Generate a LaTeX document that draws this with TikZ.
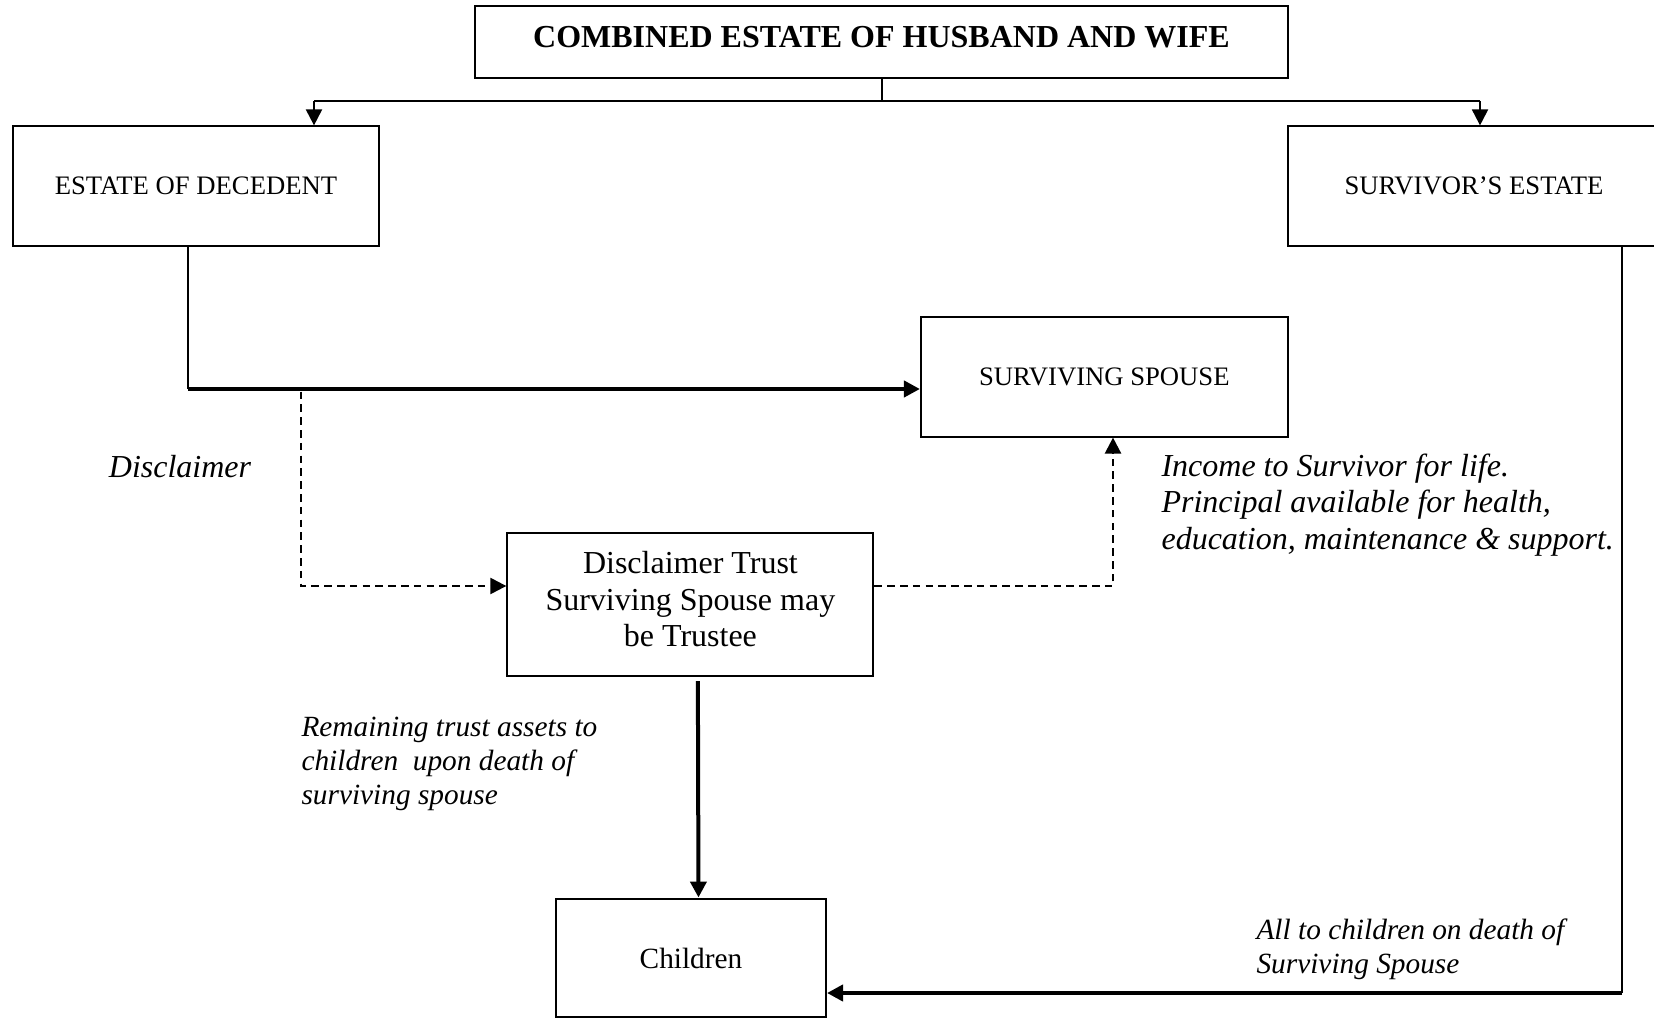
\documentclass[tikz,border=0pt]{standalone}
\usepackage{fontspec}
\setmainfont{Liberation Serif}
\usetikzlibrary{arrows.meta, calc}

\begin{document}
\begin{tikzpicture}[x=0.375pt, y=-0.375pt, >={Triangle[length=6pt, width=6pt]},
    every node/.style={font=\fontsize{12}{13.8}\selectfont},
    box/.style={draw, rectangle, line width=0.75pt, inner sep=0pt, align=center},
    capsbox/.style={box, font=\fontsize{10}{12}\selectfont, minimum width=137.6pt, minimum height=44.7pt},
    note/.style={inner sep=0pt, align=left, anchor=west, font=\fontsize{11}{12.65}\selectfont\itshape},
    link/.style={line width=0.75pt},
    heavy/.style={line width=1.5pt},
    dashlink/.style={line width=0.9pt, dash pattern=on 2.8pt off 2pt}]
    \useasboundingbox (0,0) rectangle (1654,1018);

    \node [box, minimum width=305pt, minimum height=27pt, text depth=4pt, font=\fontsize{12}{14}\selectfont\bfseries] (combined) at (881.5,42) {COMBINED ESTATE OF HUSBAND AND WIFE};
    \node [capsbox] (decedent) at (196,186) {ESTATE OF DECEDENT};
    \node [capsbox, minimum width=139.5pt] (survivor) at (1474,186) {SURVIVOR'S ESTATE};
    \node [capsbox] (spouse) at (1104.4,377) {SURVIVING SPOUSE};
    \node [box, minimum width=137.3pt, minimum height=53.8pt, text depth=4pt] (trust) at (690.4,604.4) {Disclaimer Trust\\Surviving Spouse may\\be Trustee};
    \node [box, minimum width=101.25pt, minimum height=44.6pt, font=\fontsize{11}{13}\selectfont] (children) at (691,958) {Children};

    \node [inner sep=0pt, font=\fontsize{12}{13.8}\selectfont\itshape] (disclaimer) at (180,467) {Disclaimer};
    \node [note, font=\fontsize{12}{13.7}\selectfont\itshape] (income) at (1161,505) {Income to Survivor for life.\\Principal available for health,\\education, maintenance \& support.};
    \node [note] (remaining) at (301,764) {Remaining trust assets to\\children~ upon death of\\surviving spouse};
    \node [note] (allto) at (1256,949) {All to children on death of\\Surviving Spouse};

    \coordinate (busleft) at (314,101);
    \coordinate (busright) at (1480,101);
    \coordinate (dturn) at (188,389);
    \coordinate (dsplit) at (301,389);
    \coordinate (dlow) at (301,586);
    \coordinate (ilow) at (1113,586);
    \coordinate (sturn) at (1622,993);

    \draw [link] (combined.south) -- (combined.south |- busleft);
    \draw [link] (busleft) -- (busright);
    \draw [link, ->] (busleft) -- (busleft |- decedent.north);
    \draw [link, ->] (busright) -- (busright |- survivor.north);
    \draw [link] (decedent.south -| dturn) -- (dturn);
    \draw [heavy, ->] (dturn) -- (dturn -| spouse.west);
    \draw [dashlink, ->] ([yshift=-1pt]dsplit) -- (dlow) -- (dlow -| trust.west);
    \draw [dashlink, ->] (dlow -| trust.east) -- (ilow) -- (ilow |- spouse.south);
    \draw [heavy, ->] ([xshift=2.8pt, yshift=-1.5pt]trust.south) -- ([xshift=2.8pt]children.north);
    \draw [link] (survivor.south -| sturn) -- (sturn);
    \draw [heavy, ->] (sturn) -- (sturn -| children.east);
\end{tikzpicture}
\end{document}
